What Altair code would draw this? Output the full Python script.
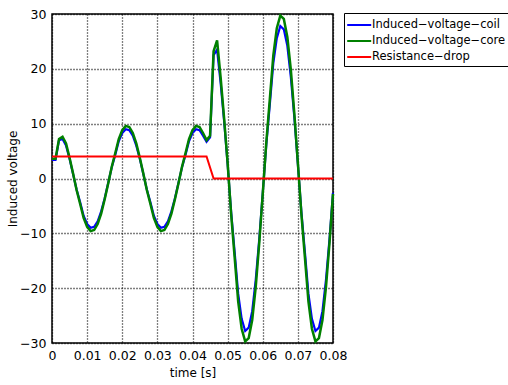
import altair as alt
import pandas as pd

# time samples in milliseconds (0 .. 80 ms, 1 ms step)
t_ms = list(range(81))

coil = [3.4, 3.4, 7.0, 7.2, 6.0, 3.6, 0.8, -2.0, -4.3, -6.8,
        -8.3, -9.0, -8.8, -7.8, -6.0, -3.6, -0.8, 2.0, 4.3, 6.8,
        8.3, 9.0, 8.8, 7.8, 6.0, 3.6, 0.8, -2.0, -4.3, -6.8,
        -8.3, -9.0, -8.8, -7.8, -6.0, -3.6, -0.8, 2.0, 4.3, 6.8,
        8.3, 9.0, 8.8, 7.8, 6.7, 7.5, 22.5, 23.5, 17.5, 10.5,
        2.6, -6.1, -13.4, -21.0, -25.6, -27.8, -27.2, -24.2, -18.5, -11.1,
        -2.6, 6.1, 13.4, 21.0, 25.6, 27.8, 27.2, 24.2, 18.5, 11.1,
        2.6, -6.1, -13.4, -21.0, -25.6, -27.8, -27.2, -24.2, -18.5, -11.1,
        -2.6]

core = [3.6, 3.6, 7.2, 7.6, 6.4, 3.8, 0.9, -2.1, -4.6, -7.2,
        -8.8, -9.6, -9.4, -8.3, -6.4, -3.8, -0.9, 2.1, 4.6, 7.2,
        8.8, 9.6, 9.4, 8.3, 6.4, 3.8, 0.9, -2.1, -4.6, -7.2,
        -8.8, -9.6, -9.4, -8.3, -6.4, -3.8, -0.9, 2.1, 4.6, 7.2,
        8.8, 9.6, 9.4, 8.3, 7.0, 7.8, 23.2, 25.2, 18.5, 11.0,
        2.8, -6.5, -14.4, -22.4, -27.4, -29.7, -29.1, -25.8, -19.8, -11.8,
        -2.8, 6.5, 14.4, 22.4, 27.4, 29.7, 29.1, 25.8, 19.8, 11.8,
        2.8, -6.5, -14.4, -22.4, -27.4, -29.7, -29.1, -25.8, -19.8, -11.8,
        -2.8]

res_t = [0.0, 0.044, 0.046, 0.08]
res_v = [4.0, 4.0, 0.0, 0.0]

names = ["Induced\u2212voltage\u2212coil", "Induced\u2212voltage\u2212core", "Resistance\u2212drop"]
colors = ["#0000ff", "#008000", "#ff0000"]

x_ticks = [0, 0.01, 0.02, 0.03, 0.04, 0.05, 0.06, 0.07, 0.08]
y_ticks = [-30, -20, -10, 0, 10, 20, 30]

df_coil = pd.DataFrame({"time": [k / 1000 for k in t_ms], "v": coil, "series": names[0]})
df_core = pd.DataFrame({"time": [k / 1000 for k in t_ms], "v": core, "series": names[1]})
df_res = pd.DataFrame({"time": res_t, "v": res_v, "series": names[2]})

FONT = "DejaVu Sans"

x_enc = alt.X("time:Q", scale=alt.Scale(domain=[0, 0.08], nice=False, zero=False),
              axis=alt.Axis(values=x_ticks, format="~g", title="time [s]",
                            labelOverlap=False, labelFlush=False))
y_enc = alt.Y("v:Q", scale=alt.Scale(domain=[-30, 30], nice=False),
              axis=alt.Axis(values=y_ticks, title="Induced voltage",
                            labelOverlap=False, labelFlush=False))
color_enc = alt.Color("series:N", scale=alt.Scale(domain=names, range=colors),
                      legend=alt.Legend(orient="none", legendX=292, legendY=-1, title=None,
                                        symbolType="M-1.1,0H1.9", symbolSize=256,
                                        symbolStrokeWidth=2, labelFontSize=11.5, labelFont=FONT,
                                        labelColor="black", labelOffset=7, labelLimit=200,
                                        strokeColor="black", fillColor="white",
                                        padding=3, rowPadding=1))

def layer(df, w):
    return alt.Chart(df).mark_line(strokeWidth=w).encode(x=x_enc, y=y_enc, color=color_enc)

chart = alt.layer(
    layer(df_coil, 2.2),
    layer(df_core, 2.5),
    layer(df_res, 2),
).properties(
    width=281, height=329,
    autosize=alt.AutoSizeParams(type="none"),
    padding={"left": 52, "top": 14, "right": 175, "bottom": 42},
    background="white",
).configure_view(
    stroke="black", strokeWidth=1.5
).configure_axis(
    grid=True, gridColor="black", gridDash=[1, 2], gridOpacity=1, gridWidth=1.3,
    domain=False, ticks=False,
    labelFont=FONT, labelFontSize=12.5, labelColor="black", labelPadding=6,
    titleFont=FONT, titleFontSize=12, titleFontWeight="normal", titleColor="black",
).configure_axisX(
    titlePadding=6
).configure_axisY(
    titlePadding=0
)

chart.save("out.html", embed_options={"renderer": "svg", "actions": False})
